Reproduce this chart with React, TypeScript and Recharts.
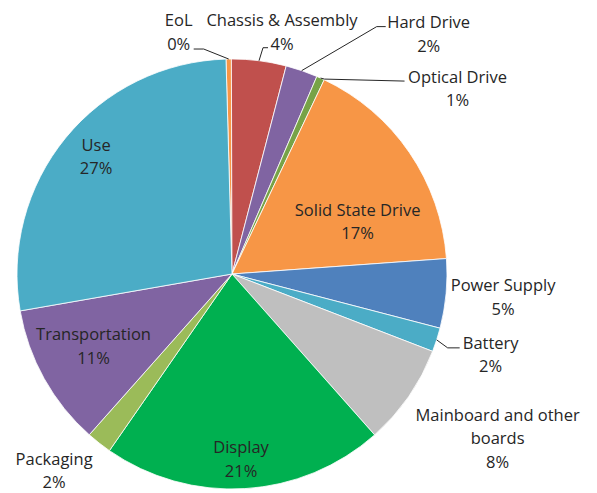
import React from 'react';
import { PieChart, Pie, Cell } from 'recharts';

const categories = [
  'EoL',
  'Chassis & Assembly',
  'Hard Drive',
  'Optical Drive',
  'Solid State Drive',
  'Power Supply',
  'Battery',
  'Mainboard and other boards',
  'Display',
  'Packaging',
  'Transportation',
  'Use',
];

const shares = [0.4, 4.1, 2.4, 0.6, 16.8, 5.2, 1.8, 7.6, 21.2, 1.9, 10.7, 27.3];

const labelLines = [
  ['EoL'],
  ['Chassis & Assembly'],
  ['Hard Drive'],
  ['Optical Drive'],
  ['Solid State Drive'],
  ['Power Supply'],
  ['Battery'],
  ['Mainboard and other', 'boards'],
  ['Display'],
  ['Packaging'],
  ['Transportation'],
  ['Use'],
];

const colors = [
  '#F79646',
  '#C0504D',
  '#8064A2',
  '#77A347',
  '#F79646',
  '#4F81BD',
  '#4BACC6',
  '#BFBFBF',
  '#00B050',
  '#9BBB59',
  '#8064A2',
  '#4BACC6',
];

const data = categories.map((name, i) => ({ name, value: shares[i] }));

type Layout = {
  r?: number;
  shift?: number;
  dx?: number;
  dy?: number;
  line?: number[][];
};

// label placement relative to each slice's own geometry (styling only)
const labelLayout: Record<string, Layout> = {
  'EoL': { dx: -50, dy: -27.5, line: [[-25, -10], [-35, -10]] },
  'Chassis & Assembly': { dx: 23, dy: -29, line: [[4, -13], [9, -13]] },
  'Hard Drive': { dx: 127, dy: -37, line: [[75, -44], [84, -44]] },
  'Optical Drive': { dx: 137, dy: 10, line: [[4, 1], [84, 3]] },
  'Solid State Drive': { r: 0.634, shift: 11.5 },
  'Power Supply': { dx: 57, dy: 3 },
  'Battery': { dx: 54, dy: 14, line: [[11, 8], [23, 8]] },
  'Mainboard and other boards': { dx: 89, dy: 41 },
  'Display': { r: 0.86, shift: 0.6 },
  'Packaging': { dx: -45, dy: 27 },
  'Transportation': { r: 0.725, shift: 1.8 },
  'Use': { r: 0.837, shift: 1.7 },
};

const FONT = '"Open Sans", Lato, sans-serif';
const LINE_H = 23.5;

const renderLabel = (props: any) => {
  const { cx, cy, midAngle, outerRadius, percent, index } = props;
  const name = categories[index];
  const L = labelLayout[name] || {};
  const RAD = Math.PI / 180;
  const baseTheta = (90 - midAngle) * RAD;
  const ox = cx + outerRadius * Math.sin(baseTheta);
  const oy = cy - outerRadius * Math.cos(baseTheta);
  const theta = (90 - midAngle + (L.shift || 0)) * RAD;
  const r = outerRadius * (L.r ?? 1);
  const ax = cx + r * Math.sin(theta) + (L.dx || 0);
  const ay = cy - r * Math.cos(theta) + (L.dy || 0);
  const lines = [...labelLines[index], `${Math.round(percent * 100)}%`];
  const n = lines.length;
  let path: string | null = null;
  if (L.line) {
    path = `M${ox},${oy}` + L.line.map((p) => ` L${ox + p[0]},${oy + p[1]}`).join('');
  }
  return (
    <g key={`lbl-${index}`}>
      {path && <path d={path} stroke="#262626" strokeWidth={1} fill="none" />}
      <text
        x={ax}
        y={ay}
        textAnchor="middle"
        fill="#262626"
        style={{ fontFamily: FONT, fontSize: 16.5 }}
      >
        {lines.map((t, i) => (
          <tspan key={i} x={ax} y={ay + (i - (n - 1) / 2) * LINE_H} dominantBaseline="central">
            {t}
          </tspan>
        ))}
      </text>
    </g>
  );
};

export default function App() {
  return (
    <div style={{ position: 'absolute', left: 0, top: 0, background: '#fff' }}>
      <PieChart width={597} height={493} margin={{ top: 0, right: 0, bottom: 0, left: 0 }}>
        <Pie
          data={data}
          dataKey="value"
          nameKey="name"
          cx={232}
          cy={274}
          outerRadius={215}
          startAngle={91.6}
          endAngle={-268.4}
          stroke="#ffffff"
          strokeWidth={0.8}
          label={renderLabel}
          labelLine={false}
          isAnimationActive={false}
        >
          {data.map((d, i) => (
            <Cell key={d.name} fill={colors[i]} />
          ))}
        </Pie>
      </PieChart>
    </div>
  );
}
